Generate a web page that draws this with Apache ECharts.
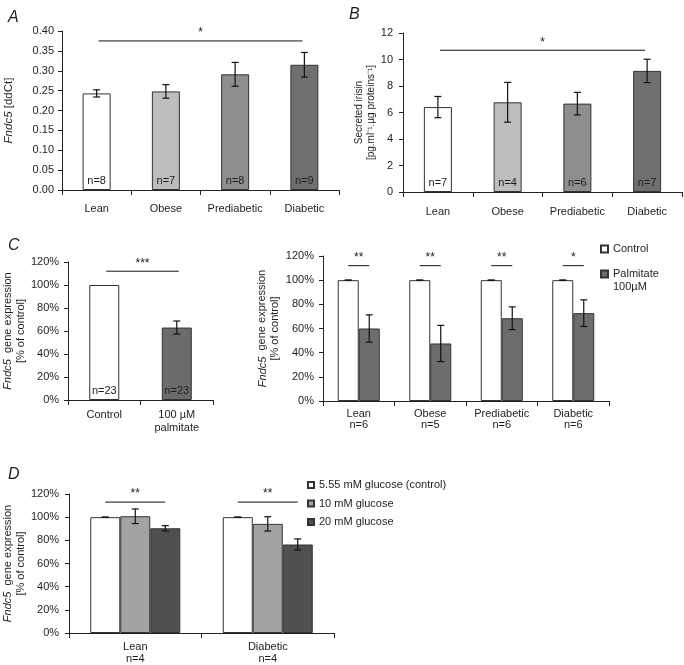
<!DOCTYPE html>
<html><head><meta charset="utf-8">
<script src="https://cdn.jsdelivr.net/npm/echarts@6/dist/echarts.min.js"></script>
<style>html,body{margin:0;padding:0;background:#fff}#c{width:684px;height:665px}</style>
</head><body><div id="c"></div>
<script>
// ---------- DATA ----------
// Panel A: Fndc5 [ddCt]
const groupsAB = ['Lean', 'Obese', 'Prediabetic', 'Diabetic'];
const fndc5Values = [0.243, 0.248, 0.291, 0.315];
const fndc5Errors = [0.009, 0.017, 0.030, 0.031];
const fndc5N = ['n=8', 'n=7', 'n=8', 'n=9'];
const sigA = [{ from: 0, to: 3, level: 0.375, text: '*' }];
const yTicksA = { min: 0, max: 0.40, step: 0.05 };
// Panel B: secreted irisin
const irisinValues = [6.41, 6.77, 6.67, 9.14];
const irisinErrors = [0.80, 1.50, 0.85, 0.88];
const irisinN = ['n=7', 'n=4', 'n=6', 'n=7'];
const sigB = [{ from: 0, to: 3, level: 10.7, text: '*' }];
const yTicksB = { min: 0, max: 12, step: 2 };
// Panel C left
const palmCats = ['Control', '100 µM\npalmitate'];
const palmValues = [100, 63];
const palmErrors = [null, 5.7];
const palmN = ['n=23', 'n=23'];
const sigCL = [{ from: 0, to: 1, level: 112, text: '***' }];
// Panel C right
const groupsC = ['Lean', 'Obese', 'Prediabetic', 'Diabetic'];
const groupsCN = ['n=6', 'n=5', 'n=6', 'n=6'];
const ctrlC = [100, 100, 100, 100];
const ctrlCErr = [0, 0, 0, 0];
const palmC = [60.0, 47.6, 68.5, 72.7];
const palmCErr = [11.3, 15.0, 9.4, 11.0];
const sigC = ['**', '**', '**', '*'];
const sigCLevel = 112;
// Panel D
const groupsD = ['Lean', 'Diabetic'];
const groupsDN = ['n=4', 'n=4'];
const glc555 = [100, 100];
const glc555Err = [0, 0];
const glc10 = [100.8, 94.2];
const glc10Err = [6.3, 6.2];
const glc20 = [90.4, 76.4];
const glc20Err = [2.3, 4.8];
const sigD = ['**', '**'];
const sigDLevel = 113;
const yTicksPct = { min: 0, max: 120, step: 20 };

// ---------- STYLE ----------
const FONT = 'Liberation Sans';
const TXT = '#1e1e1e';
const BORDER = '#333';
const groupColors = ['#ffffff', '#bdbdbd', '#8e8e8e', '#6f6f6f'];

const grids = [
  { left: 62, top: 31, width: 277, height: 159 },   // A
  { left: 403, top: 33, width: 279, height: 159 },  // B
  { left: 63, top: 262, width: 150, height: 138 },  // C left
  { left: 323, top: 256, width: 286, height: 145 }, // C right
  { left: 66, top: 494, width: 268, height: 140 }   // D
];

function xAx(gi, data, fmt, margin, lh) {
  return {
    type: 'category', gridIndex: gi, data: data,
    axisLine: { lineStyle: { color: '#222', width: 1 } },
    axisTick: { show: true, length: 5, lineStyle: { color: '#222' } },
    axisLabel: { fontFamily: FONT, fontSize: 11, color: TXT, margin: margin, lineHeight: lh, interval: 0, formatter: fmt },
    splitLine: { show: false }
  };
}
function yAx(gi, t, fmt, name, gap, nameSize, margin) {
  return {
    type: 'value', gridIndex: gi, min: t.min, max: t.max, interval: t.step,
    axisLine: { show: true, lineStyle: { color: '#222', width: 1 } },
    axisTick: { show: true, length: 4, lineStyle: { color: '#222' } },
    axisLabel: { fontFamily: FONT, fontSize: 11, color: TXT, margin: margin, formatter: fmt },
    splitLine: { show: false },
    name: name, nameLocation: 'middle', nameGap: gap,
    nameTextStyle: {
      fontFamily: FONT, fontSize: nameSize, color: TXT, lineHeight: nameSize + 2,
      rich: { i: { fontStyle: 'italic', fontFamily: FONT, fontSize: nameSize, color: TXT, lineHeight: nameSize + 2 } }
    }
  };
}
const pctFmt = v => v + '%';

function nLabel(arr) {
  return {
    show: true, position: 'insideBottom', distance: 4,
    fontFamily: FONT, fontSize: 11, color: TXT,
    formatter: p => arr[p.dataIndex]
  };
}

function errSeries(gi, vals, errs, offPx) {
  return {
    type: 'custom', xAxisIndex: gi, yAxisIndex: gi, z: 6, silent: true,
    data: vals.map((v, i) => [i, v]),
    renderItem: function (params, api) {
      const e = errs[params.dataIndex];
      if (e === null || e === undefined) return null;
      const v = api.value(1);
      const lo = api.coord([api.value(0), v - e]);
      const hi = api.coord([api.value(0), v + e]);
      const x = lo[0] + offPx, cw = 3.5;
      const st = { stroke: '#111', lineWidth: 1.2 };
      return {
        type: 'group', children: [
          { type: 'line', shape: { x1: x, y1: lo[1], x2: x, y2: hi[1] }, style: st },
          { type: 'line', shape: { x1: x - cw, y1: hi[1], x2: x + cw, y2: hi[1] }, style: st },
          { type: 'line', shape: { x1: x - cw, y1: lo[1], x2: x + cw, y2: lo[1] }, style: st }
        ]
      };
    }
  };
}

function bracketSeries(gi, items, offStart, offEnd) {
  return {
    type: 'custom', xAxisIndex: gi, yAxisIndex: gi, z: 6, silent: true,
    data: items.map(it => [it.from, it.to, it.level]),
    renderItem: function (params, api) {
      const a = api.coord([api.value(0), api.value(2)]);
      const b = api.coord([api.value(1), api.value(2)]);
      const x1 = a[0] + offStart, x2 = b[0] + offEnd, y = a[1];
      return {
        type: 'group', children: [
          { type: 'line', shape: { x1: x1, y1: y, x2: x2, y2: y }, style: { stroke: '#111', lineWidth: 1 } },
          { type: 'text', style: { text: items[params.dataIndex].text, x: (x1 + x2) / 2, y: y - 2, align: 'center', verticalAlign: 'bottom', fontFamily: FONT, fontSize: 12, fill: TXT } }
        ]
      };
    }
  };
}

const barStyle = c => ({ color: c, borderColor: BORDER, borderWidth: 1 });
const legendText = { fontFamily: FONT, fontSize: 11, color: TXT, lineHeight: 13,
  rich: { t: { fontFamily: FONT, fontSize: 11, color: TXT, lineHeight: 13 }, pad: { fontSize: 11, lineHeight: 13 } } };

const option = {
  animation: false,
  backgroundColor: '#fff',
  title: [
    { text: 'A', left: 3, top: 5 },
    { text: 'B', left: 344, top: 2 },
    { text: 'C', left: 3, top: 233 },
    { text: 'D', left: 3, top: 462 }
  ].map(t => Object.assign(t, { textStyle: { fontFamily: FONT, fontStyle: 'italic', fontWeight: 'normal', fontSize: 16, color: TXT } })),
  grid: grids,
  xAxis: [
    xAx(0, groupsAB, null, 12, 13),
    xAx(1, groupsAB, null, 13, 13),
    xAx(2, palmCats, null, 8, 13),
    xAx(3, groupsC, (v, i) => v + '\n' + groupsCN[i], 7, 11),
    xAx(4, groupsD, (v, i) => v + '\n' + groupsDN[i], 8, 12)
  ],
  yAxis: [
    yAx(0, yTicksA, v => v.toFixed(2), '{i|Fndc5} [ddCt]', 46, 11.5, 8),
    yAx(1, yTicksB, null, 'Secreted irisin\n[pg.ml⁻¹.µg proteins⁻¹]', 20, 10, 10),
    yAx(2, yTicksPct, pctFmt, '{i|Fndc5}  gene expression\n[% of control]', 34, 11, 9),
    yAx(3, yTicksPct, pctFmt, '{i|Fndc5}  gene expression\n[% of control]', 32, 11, 9),
    yAx(4, yTicksPct, pctFmt, '{i|Fndc5}  gene expression\n[% of control]', 38, 11, 10)
  ],
  legend: [
    {
      left: 600, top: 242.5, padding: 0, orient: 'vertical', icon: 'rect',
      itemWidth: 7, itemHeight: 7, itemGap: -1,
      textStyle: legendText,
      formatter: name => name.indexOf('\n') >= 0
        ? '{pad| }\n' + name.split('\n').map(s => '{t|' + s + '}').join('\n')
        : '{t|' + name + '}',
      data: ['Control', 'Palmitate\n100µM']
    },
    {
      left: 307, top: 478.5, padding: 0, orient: 'vertical', icon: 'rect',
      itemWidth: 6, itemHeight: 6, itemGap: 5.5,
      textStyle: legendText,
      data: ['5.55 mM glucose (control)', '10 mM glucose', '20 mM glucose']
    }
  ],
  series: [
    // A
    {
      name: 'Fndc5 ddCt', type: 'bar', xAxisIndex: 0, yAxisIndex: 0, barWidth: 28,
      data: fndc5Values.map((v, i) => ({ value: v, itemStyle: barStyle(groupColors[i]) })),
      label: nLabel(fndc5N)
    },
    errSeries(0, fndc5Values, fndc5Errors, 0),
    bracketSeries(0, sigA, 2, -2),
    // B
    {
      name: 'Secreted irisin', type: 'bar', xAxisIndex: 1, yAxisIndex: 1, barWidth: 28,
      data: irisinValues.map((v, i) => ({ value: v, itemStyle: barStyle(groupColors[i]) })),
      label: nLabel(irisinN)
    },
    errSeries(1, irisinValues, irisinErrors, 0),
    bracketSeries(1, sigB, 2, -2),
    // C left
    {
      name: 'Palmitate overall', type: 'bar', xAxisIndex: 2, yAxisIndex: 2, barWidth: 30,
      data: palmValues.map((v, i) => ({ value: v, itemStyle: barStyle(i === 0 ? '#ffffff' : '#6b6b6b') })),
      label: nLabel(palmN)
    },
    errSeries(2, palmValues, palmErrors, 0),
    bracketSeries(2, sigCL, 2, 2),
    // C right
    {
      name: 'Control', type: 'bar', xAxisIndex: 3, yAxisIndex: 3, barWidth: 21, barGap: '0%',
      itemStyle: barStyle('#ffffff'), data: ctrlC
    },
    {
      name: 'Palmitate\n100µM', type: 'bar', xAxisIndex: 3, yAxisIndex: 3, barWidth: 21, barGap: '0%',
      itemStyle: barStyle('#6d6d6d'), data: palmC
    },
    errSeries(3, ctrlC, ctrlCErr, -10.5),
    errSeries(3, palmC, palmCErr, 10.5),
    bracketSeries(3, sigC.map((s, i) => ({ from: i, to: i, level: sigCLevel, text: s })), -10.5, 10.5),
    // D
    {
      name: '5.55 mM glucose (control)', type: 'bar', xAxisIndex: 4, yAxisIndex: 4, barWidth: 30, barGap: '0%',
      itemStyle: barStyle('#ffffff'), data: glc555
    },
    {
      name: '10 mM glucose', type: 'bar', xAxisIndex: 4, yAxisIndex: 4, barWidth: 30, barGap: '0%',
      itemStyle: barStyle('#a3a3a3'), data: glc10
    },
    {
      name: '20 mM glucose', type: 'bar', xAxisIndex: 4, yAxisIndex: 4, barWidth: 30, barGap: '0%',
      itemStyle: barStyle('#505050'), data: glc20
    },
    errSeries(4, glc555, glc555Err, -30),
    errSeries(4, glc10, glc10Err, 0),
    errSeries(4, glc20, glc20Err, 30),
    bracketSeries(4, sigD.map((s, i) => ({ from: i, to: i, level: sigDLevel, text: s })), -30, 30)
  ]
};

const chart = echarts.init(document.getElementById('c'), null, { renderer: 'canvas', width: 684, height: 665 });
chart.setOption(option);
</script>
</body></html>
